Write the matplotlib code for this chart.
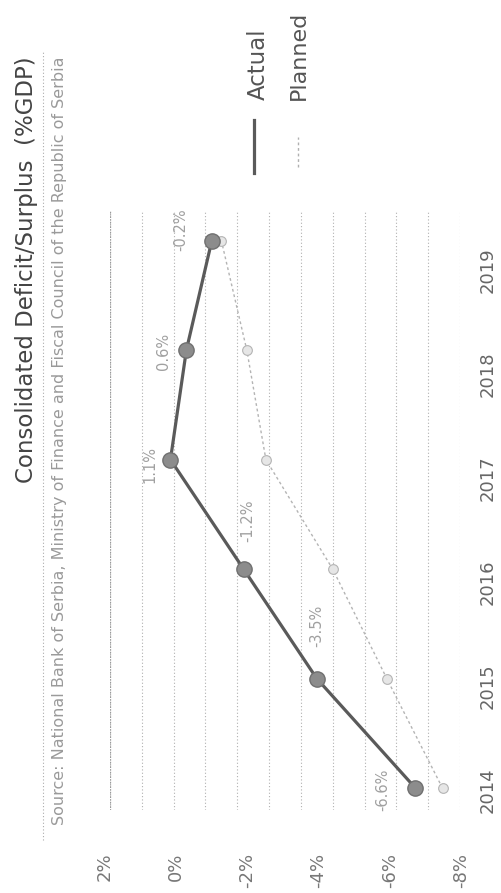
import matplotlib
matplotlib.use('Agg')
import matplotlib.pyplot as plt
from matplotlib.lines import Line2D

years = [2014, 2015, 2016, 2017, 2018, 2019]
actual = [-6.6, -3.5, -1.2, 1.1, 0.6, -0.2]
planned = [-7.45, -5.7, -4.0, -1.9, -1.3, -0.5]
actual_labels = ['-6.6%', '-3.5%', '-1.2%', '1.1%', '0.6%', '-0.2%']
value_ticks = [2, 0, -2, -4, -6, -8]
value_ticklabels = ['2%', '0%', '-2%', '-4%', '-6%', '-8%']
grid_values = list(range(-8, 4))
title = 'Consolidated Deficit/Surplus  (%GDP)'
source = 'Source: National Bank of Serbia, Ministry of Finance and Fiscal Council of the Republic of Serbia'
legend_names = ['Actual', 'Planned']

W, H = 501, 893
fig = plt.figure(figsize=(W / 100, H / 100), dpi=100)
fig.patch.set_facecolor('white')

def fx(px):
    return px / W

def fy(py):
    return 1 - py / H

# data axes (rotated chart: values run horizontally, years vertically)
ax = fig.add_axes([fx(110), fy(810), fx(460) - fx(110), fy(210) - fy(810)])
for v in grid_values:
    ax.axvline(v, color='#b0b0b0', lw=0.8, ls=(0, (1, 2)), zorder=0)
ax.axvline(grid_values[-1], color='#999999', lw=0.9, ls=(0, (1, 1)), zorder=0)

ax.plot(planned, years, color='#b4b4b4', lw=1.0, ls=(0, (2, 2)), marker='o', ms=7,
        mfc='#e6e6e6', mec='#b4b4b4', mew=0.8, zorder=2)
ax.plot(actual, years, color='#5a5a5a', lw=2.3, marker='o', ms=11,
        mfc='#8c8c8c', mec='#707070', mew=1, zorder=3)

label_offsets = [(-33, 2), (0, -53), (4, -48), (-21, 5), (-23, 1), (-31, -11)]
for v, y, lab, (dx, dy) in zip(actual, years, actual_labels, label_offsets):
    ax.annotate(lab, (v, y), xytext=(dx, -dy), textcoords='offset pixels', rotation=90,
                ha='center', va='center', fontsize=10.5, color='#a0a0a0')

ax.set_xlim(3, -8)
ax.set_ylim(2013.8, 2019.28)
ax.set_xticks([])
ax.set_yticks([])
for s in ax.spines.values():
    s.set_visible(False)

# label axes: tick text layer of the reference
lab = fig.add_axes([fx(105), fy(790), fx(461) - fx(105), fy(270) - fy(790)])
lab.patch.set_visible(False)
for s in lab.spines.values():
    s.set_visible(False)
lab.set_xlim(value_ticks[0], value_ticks[-1])
lab.set_ylim(years[0], years[-1])
lab.set_xticks(value_ticks)
lab.set_xticklabels(value_ticklabels, rotation=90, fontsize=13, color='#777777')
lab.yaxis.tick_right()
lab.set_yticks(years)
lab.set_yticklabels([str(y) for y in years], rotation=90, va='center', fontsize=13, color='#666666')
lab.tick_params(axis='x', length=0, pad=45)
lab.tick_params(axis='y', length=0, pad=13)

fig.text(fx(27), fy(270), title, rotation=90, ha='center', va='center', fontsize=16.5, color='#444444')
fig.text(fx(60), fy(441), source, rotation=90, ha='center', va='center', fontsize=11.5, color='#9a9a9a')
fig.add_artist(Line2D([fx(43), fx(43)], [fy(840), fy(50)], lw=0.8, ls=(0, (1, 2)), color='#aaaaaa'))

# legend (rotated)
fig.add_artist(Line2D([fx(254), fx(254)], [fy(173), fy(120)], lw=2.3, color='#5a5a5a'))
fig.text(fx(258), fy(100), legend_names[0], rotation=90, ha='center', va='bottom', fontsize=16.5, color='#555555')
fig.add_artist(Line2D([fx(298), fx(298)], [fy(167), fy(137)], lw=1.0, ls=(0, (2, 2)), color='#b0b0b0'))
fig.text(fx(299), fy(100), legend_names[1], rotation=90, ha='center', va='bottom', fontsize=16, color='#555555')

fig.savefig('out.png', dpi=100)
